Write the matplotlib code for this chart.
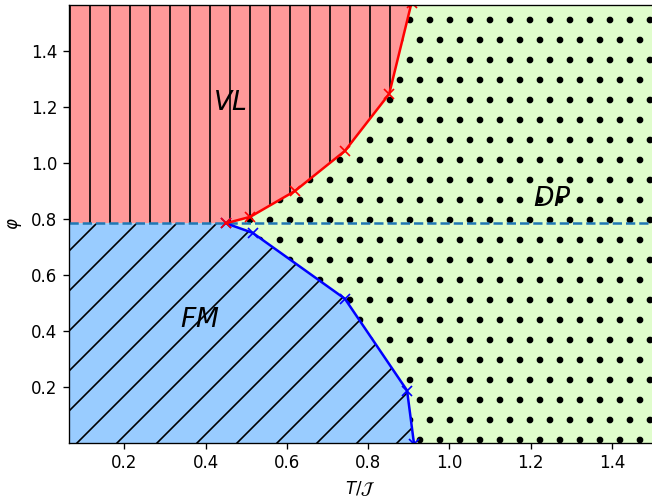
import numpy as np
import matplotlib
matplotlib.use("Agg")
import matplotlib.pyplot as plt

# phase boundaries
vl_T = [0.45, 0.51, 0.62, 0.743, 0.852, 0.907]
vl_phi = [0.785, 0.808, 0.900, 1.043, 1.246, 1.571]
fm_T = [0.45, 0.516, 0.743, 0.896, 0.913]
fm_phi = [0.785, 0.751, 0.516, 0.189, 0.0]

phi_c = np.pi / 4
T_lim = (0.064, 1.5)
phi_lim = (0.003, 1.563)

VL_COLOR = "#ff9999"
FM_COLOR = "#99ccff"
DP_COLOR = "#e0fdcc"

fig = plt.figure(figsize=(652 / 120, 498 / 120), dpi=120)
ax = fig.add_axes([69 / 652, 1 - 442.7 / 498, 583.5 / 652, 437.7 / 498])

# DP is the background, the other two phases go on top
with plt.rc_context({"hatch.linewidth": 1.6}):
    ax.fill_between(T_lim, phi_lim[0], phi_lim[1] + 0.1, facecolor=DP_COLOR,
                    edgecolor="k", linewidth=0, hatch=".")
ax.fill_betweenx(vl_phi, T_lim[0], vl_T, facecolor=VL_COLOR,
                 edgecolor="k", linewidth=0, hatch="|")
ax.fill_betweenx(fm_phi, T_lim[0], fm_T, facecolor=FM_COLOR,
                 edgecolor="k", linewidth=0, hatch="/")

ax.axhline(phi_c, color="tab:blue", linestyle="--")
ax.plot(fm_T, fm_phi, "bx-")
ax.plot(vl_T, vl_phi, "rx-")

ax.text(0.46, 1.213, "$VL$", fontsize=16, ha="center", va="center")
ax.text(0.385, 0.44, "$FM$", fontsize=16, ha="center", va="center")
ax.text(1.253, 0.871, "$DP$", fontsize=16, ha="center", va="center")

ax.set_xlim(*T_lim)
ax.set_ylim(*phi_lim)
ax.set_xlabel(r"$T/\mathcal{J}$")
ax.set_ylabel(r"$\varphi$")

fig.savefig("out.png", dpi=120)
